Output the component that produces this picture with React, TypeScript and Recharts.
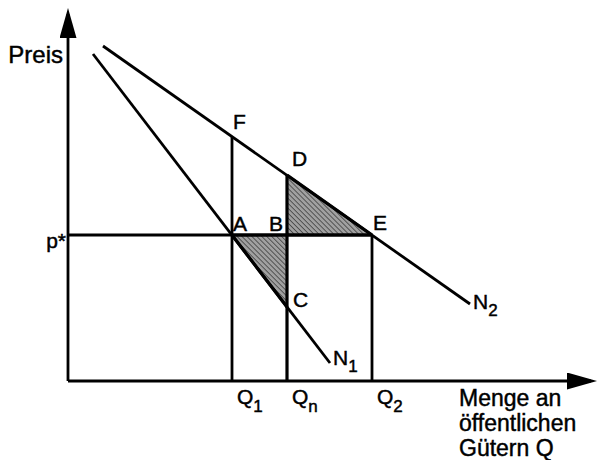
import { ComposedChart, XAxis, YAxis, Area, ReferenceLine, ReferenceDot } from "recharts";

// Mengen auf der Abszisse (Q1, Qn, Q2) und Preis p*
const quantityTicks = [16.4, 21.9, 30.4];
const quantityTickBase = ["Q", "Q", "Q"];
const quantityTickSub = ["1", "n", "2"];
const pStar = 14.6;
const priceTicks = [pStar];
const priceTickLabels = ["p*"];

// Nachfragekurven (Anfangs- und Endpunkt)
const n1Quantities = [2.5, 26.2];
const n1Prices = [32.7, 1.8];
const n2Quantities = [3.5, 40.2];
const n2Prices = [33.5, 7.7];
const curveBase = ["N", "N"];
const curveSub = ["1", "2"];

// Benannte Punkte
const pointNames = ["A", "B", "C", "D", "E", "F"];
const pointQuantities = [16.4, 21.9, 21.9, 21.9, 30.4, 16.4];
const pointPrices = [pStar, pStar, 7.4, 20.6, pStar, 24.4];

const yTitle = "Preis";
const xTitle = ["Menge an", "öffentlichen", "Gütern Q"];

const FONT = "'Liberation Sans', Arial, Helvetica, sans-serif";
const LINE = 2.8;
// leichte Kontur, damit die Schrift so kräftig wirkt wie im Scan
const ink = { fill: "#000", stroke: "#000", strokeWidth: 0.45 };

const pt = (name: string) => {
  const i = pointNames.indexOf(name);
  return { q: pointQuantities[i], p: pointPrices[i] };
};
const A = pt("A");
const B = pt("B");
const C = pt("C");
const D = pt("D");
const E = pt("E");
const F = pt("F");

// Schraffierte Dreiecke ABC und BDE als Bereichsflächen
const chartData = [
  { q: A.q, loss: [A.p, B.p] },
  { q: B.q, loss: [C.p, B.p], gain: [B.p, D.p] },
  { q: E.q, gain: [E.p, E.p] },
];

// Beschriftungsversatz in Pixeln
const labelOffset: Record<string, [number, number, "start" | "end"]> = {
  A: [1, -4, "start"],
  B: [-4, -4, "end"],
  C: [6, 0, "start"],
  D: [5, -9, "start"],
  E: [1, -5, "start"],
  F: [1, -8, "start"],
};

const PointLabel = (name: string) => (props: any) => {
  const [dx, dy, anchor] = labelOffset[name];
  return (
    <text x={props.cx + dx} y={props.cy + dy} textAnchor={anchor} fontSize={21} fontFamily={FONT} {...ink}>
      {name}
    </text>
  );
};

const CurveLabel = (i: number) => (props: any) => (
  <text x={props.cx + 3} y={props.cy + (i === 0 ? 2 : 5)} fontSize={21} fontFamily={FONT} {...ink}>
    {curveBase[i]}
    <tspan dy={7} fontSize={17}>{curveSub[i]}</tspan>
  </text>
);

const QTick = (props: any) => {
  const { x, y, index } = props;
  return (
    <text x={x + 5} y={y + 23} fontSize={21} fontFamily={FONT} {...ink}>
      {quantityTickBase[index]}
      <tspan dy={8} fontSize={17}>{quantityTickSub[index]}</tspan>
    </text>
  );
};

const PTick = (props: any) => {
  const { x, y, index } = props;
  return (
    <text x={x - 2} y={y + 13} textAnchor="end" fontSize={21} fontFamily={FONT} {...ink}>
      {priceTickLabels[index]}
    </text>
  );
};

const seg = (q1: number, p1: number, q2: number, p2: number) => [
  { x: q1, y: p1 },
  { x: q2, y: p2 },
];

export default function App() {
  return (
    <div style={{ width: 600, height: 460, background: "#fff" }}>
      <style>{"body{margin:0}"}</style>
      <ComposedChart width={600} height={460} data={chartData} margin={{ top: 14, right: 9, bottom: 0, left: 0 }}>
        <defs>
          <pattern id="hatch" width="3.5" height="3.5" patternUnits="userSpaceOnUse" patternTransform="rotate(-45)">
            <rect width="3.5" height="3.5" fill="#a0a0a0" />
            <line x1="0" y1="0" x2="0" y2="3.5" stroke="#3a3a3a" strokeWidth="1.5" />
          </pattern>
          <marker id="axisArrow" markerUnits="userSpaceOnUse" markerWidth="30" markerHeight="17" refX="24" refY="8.5" orient="auto-start-reverse">
            <path d="M0,0 L30,8.5 L0,17 Z" fill="#000" />
          </marker>
        </defs>
        <XAxis
          dataKey="q"
          type="number"
          domain={[0, 52.3]}
          ticks={quantityTicks}
          interval={0}
          height={79}
          tickSize={0}
          tickMargin={0}
          tickLine={false}
          tick={<QTick />}
          axisLine={{ stroke: "#000", strokeWidth: LINE, markerEnd: "url(#axisArrow)" }}
          label={{
            content: () => (
              <text fontSize={23} fontFamily={FONT} {...ink}>
                {xTitle.map((t, i) => (
                  <tspan key={t} x={459} y={406 + i * 25}>
                    {t}
                  </tspan>
                ))}
              </text>
            ),
          }}
        />
        <YAxis
          type="number"
          domain={[0, 36.7]}
          ticks={priceTicks}
          width={68}
          tickSize={0}
          tickMargin={0}
          tickLine={false}
          tick={<PTick />}
          axisLine={{ stroke: "#000", strokeWidth: LINE, markerStart: "url(#axisArrow)" }}
          label={{
            content: () => (
              <text x={63} y={63} textAnchor="end" fontSize={24} fontFamily={FONT} {...ink}>
                {yTitle}
              </text>
            ),
          }}
        />
        <Area
          type="linear"
          dataKey="loss"
          stroke="#000"
          strokeWidth={3.2}
          fill="url(#hatch)"
          fillOpacity={1}
          dot={false}
          activeDot={false}
          isAnimationActive={false}
        />
        <Area
          type="linear"
          dataKey="gain"
          stroke="#000"
          strokeWidth={3.2}
          fill="url(#hatch)"
          fillOpacity={1}
          dot={false}
          activeDot={false}
          isAnimationActive={false}
        />
        <ReferenceLine segment={seg(n1Quantities[0], n1Prices[0], n1Quantities[1], n1Prices[1])} stroke="#000" strokeWidth={LINE} />
        <ReferenceLine segment={seg(n2Quantities[0], n2Prices[0], n2Quantities[1], n2Prices[1])} stroke="#000" strokeWidth={LINE} />
        <ReferenceLine segment={seg(0, pStar, E.q, E.p)} stroke="#000" strokeWidth={LINE} />
        <ReferenceLine segment={seg(F.q, 0, F.q, F.p)} stroke="#000" strokeWidth={LINE} />
        <ReferenceLine segment={seg(D.q, 0, D.q, D.p)} stroke="#000" strokeWidth={3.2} />
        <ReferenceLine segment={seg(E.q, 0, E.q, E.p)} stroke="#000" strokeWidth={LINE} />
        {pointNames.map((n, i) => (
          <ReferenceDot key={n} x={pointQuantities[i]} y={pointPrices[i]} r={0} shape={PointLabel(n)} />
        ))}
        <ReferenceDot x={n1Quantities[1]} y={n1Prices[1]} r={0} shape={CurveLabel(0)} />
        <ReferenceDot x={n2Quantities[1]} y={n2Prices[1]} r={0} shape={CurveLabel(1)} />
      </ComposedChart>
    </div>
  );
}
